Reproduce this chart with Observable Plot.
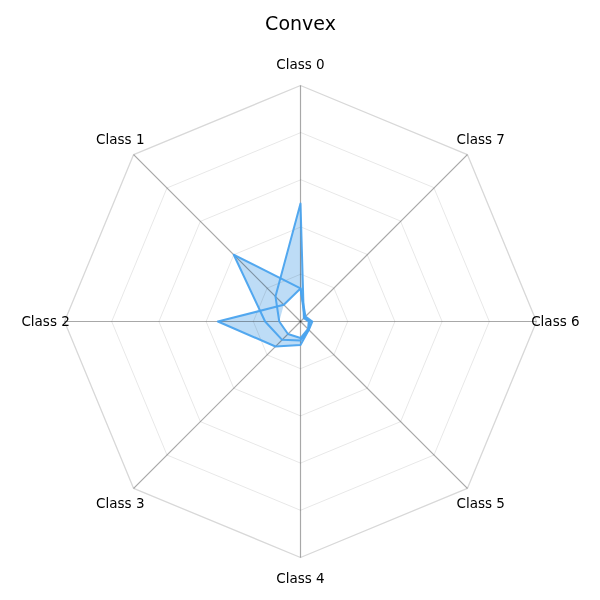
<!DOCTYPE html>
<html>
<head>
<meta charset="utf-8">
<script src="https://cdn.jsdelivr.net/npm/d3@7"></script>
<script src="https://cdn.jsdelivr.net/npm/@observablehq/plot@0.6"></script>
<style>
  html, body { margin: 0; padding: 0; background: #fff; }
  #chart { width: 600px; height: 600px; }
</style>
</head>
<body>
<div id="chart"></div>
<script>
// ---- data ----
const title = "Convex";
const classes = ["Class 0", "Class 1", "Class 2", "Class 3", "Class 4", "Class 5", "Class 6", "Class 7"];
const seriesA = [0.50, 0.15, 0.09, 0.075, 0.07, 0.045, 0.035, 0.02];
const seriesB = [0.14, 0.40, 0.15, 0.11, 0.08, 0.05, 0.04, 0.025];
const seriesC = [0.14, 0.10, 0.35, 0.15, 0.10, 0.05, 0.05, 0.03];
const ringLevels = [0.2, 0.4, 0.6, 0.8, 1.0];

// ---- build tables ----
const n = classes.length;
const ang = k => k * 2 * Math.PI / n;
const px = (k, r) => -r * Math.sin(ang(k));
const py = (k, r) => r * Math.cos(ang(k));

const series = [["A", seriesA], ["B", seriesB], ["C", seriesC]];
const seriesPts = series.flatMap(([name, vals]) =>
  vals.map((v, k) => ({series: name, k, v})));
const holePts = classes.map((c, k) => ({k, v: d3.min(series, ([, vals]) => vals[k])}));
const ringPts = ringLevels.flatMap(level => classes.map((c, k) => ({level, k})));
const axisRows = classes.map((c, k) => ({k, label: c}));

const lineColor = "#4aa3ee";
const fillColor = "#bddcf6";
const R = 236;

const chart = Plot.plot({
  width: 600,
  height: 600,
  margin: 0,
  x: {domain: [-300 / R, 300 / R], axis: null},
  y: {domain: [-279 / R, 321 / R], axis: null},
  style: {fontFamily: "DejaVu Sans", background: "white"},
  marks: [
    // filled series
    Plot.line(seriesPts, {x: d => px(d.k, d.v), y: d => py(d.k, d.v), z: "series",
      curve: "linear-closed", fill: fillColor, stroke: "none"}),
    // common inner region left unfilled
    Plot.line(holePts, {x: d => px(d.k, d.v), y: d => py(d.k, d.v),
      curve: "linear-closed", fill: "white", stroke: "none"}),
    // grid rings
    Plot.line(ringPts.filter(d => d.level < 1), {x: d => px(d.k, d.level), y: d => py(d.k, d.level), z: "level",
      curve: "linear-closed", stroke: "#e8e8e8", strokeWidth: 1, mixBlendMode: "multiply"}),
    Plot.line(ringPts.filter(d => d.level === 1), {x: d => px(d.k, d.level), y: d => py(d.k, d.level), z: "level",
      curve: "linear-closed", stroke: "#d8d8d8", strokeWidth: 1.3, mixBlendMode: "multiply"}),
    // spokes
    Plot.link(axisRows, {x1: 0, y1: 0, x2: d => px(d.k, 1), y2: d => py(d.k, 1),
      stroke: "#a8a8a8", strokeWidth: 1.2, mixBlendMode: "multiply"}),
    // series outlines
    Plot.line(seriesPts, {x: d => px(d.k, d.v), y: d => py(d.k, d.v), z: "series",
      curve: "linear-closed", stroke: lineColor, strokeWidth: 2, strokeOpacity: 0.95}),
    // class labels
    Plot.text(axisRows, {x: d => px(d.k, 1.08), y: d => py(d.k, 1.09), text: "label",
      fontSize: 13.5, fill: "black"}),
    // title
    Plot.text([title], {frameAnchor: "top", dy: 23, text: d => d, fontSize: 19, fill: "black", lineAnchor: "middle"})
  ]
});
document.getElementById("chart").appendChild(chart);
</script>
</body>
</html>
